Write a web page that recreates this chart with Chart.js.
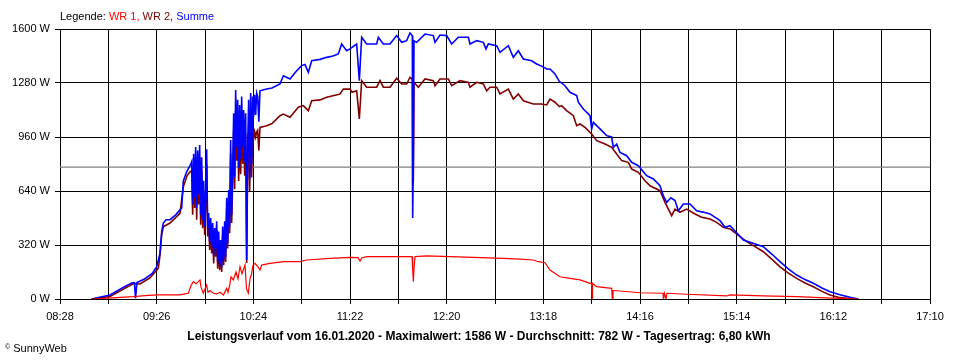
<!DOCTYPE html>
<html>
<head>
<meta charset="utf-8">
<script src="https://cdn.jsdelivr.net/npm/chart.js@4.4.1/dist/chart.umd.min.js"></script>
<style>
  html, body { margin: 0; padding: 0; background: #ffffff; }
  #wrap { position: relative; width: 960px; height: 360px; font-family: "Liberation Sans", Arial, sans-serif; }
  #c { position: absolute; left: 0; top: 0; }
  .txt { position: absolute; white-space: nowrap; color: #000; }
  #legend { left: 60px; top: 10px; font-size: 11px; }
  #title { left: 0; width: 958px; top: 329px; text-align: center; font-size: 12px; font-weight: bold; }
  #copy { left: 5px; top: 342px; font-size: 11px; }
  #copy sup { font-size: 7px; vertical-align: 3px; }
</style>
</head>
<body>
<div id="wrap">
  <canvas id="c" width="960" height="360"></canvas>
  <div class="txt" id="legend">Legende: <span style="color:#ff0000">WR 1,</span> <span style="color:#800000">WR 2,</span> <span style="color:#0000ff">Summe</span></div>
  <div class="txt" id="title">Leistungsverlauf vom 16.01.2020 - Maximalwert: 1586 W - Durchschnitt: 782 W - Tagesertrag: 6,80 kWh</div>
  <div class="txt" id="copy"><sup>©</sup> SunnyWeb</div>
</div>
<script>
// ---- tick labels ----
const xTickLabels = ['08:28','09:26','10:24','11:22','12:20','13:18','14:16','15:14','16:12','17:10'];
const yTickValues = [0, 320, 640, 960, 1280, 1600];
const averageW = 782;

// ---- Summe (blue): time in minutes since midnight, value in W ----
const sumTimes = [527,538,547,551,552.7,553.3,554.2,559,563.2,566,568,569,570,571.6,574,577.6,581,582,584,586,
587,587.6,588.2,588.8,589.4,590,590.6,591.2,591.8,592.4,593,593.6,594.2,594.8,595.4,596,596.6,597.2,597.8,598.4,
599,599.6,600.2,600.8,601.4,602,602.6,603.2,603.8,604.4,605,605.6,606.2,606.8,607.4,608,608.6,609.2,609.8,610.4,
611,611.6,612.2,612.8,613.4,614,614.6,615.2,615.8,616.4,617,617.6,618.2,618.8,619.4,620,620.6,621.2,621.8,622.4,
623,623.6,624.2,624.8,625.4,626,626.6,627.3,
628,632,635.2,640,642,644.8,646,650,653,655,657,659,664,668,671.8,675,677,680,682,686,687.6,689,692,698,699,702,706,
710,713,716,718,719.4,719.6,720,720.4,722,727,732,733,736,740,743,747,753,754,758,762,763.6,765,770,772,777,780,783,
786,791,794,797,800,802,805,807.6,811,814,818,819,822,826,827,828,832,836,839,840,842,844,848,851,855,860,864,868,
870,872,874.6,877,879,882,886,890,893.8,898,904,907,910,918,923.8,930,935.2,940,944.8,950,955,960,965.2,970,976,982,987];
const summe = [0,24,75,95,97,5,97,120,150,190,272,400,450,470,470,500,540,700,754,790,
814,560,860,600,900,540,880,620,912,500,840,470,700,430,620,888,420,510,340,480,
310,450,260,420,300,460,220,400,200,350,185,430,230,460,250,600,330,646,430,942,
500,760,1100,720,1238,900,1180,780,1150,830,1200,900,1120,810,1100,231,900,1180,710,1220,
800,1200,1080,1210,1090,1220,1200,1050,
1234,1244,1250,1274,1323,1310,1304,1353,1383,1390,1343,1412,1420,1432,1440,1452,1511,1471,1482,1511,1294,1551,1511,1511,1551,1511,1511,
1561,1521,1531,1576,1560,480,820,1530,1521,1570,1561,1521,1564,1561,1511,1551,1551,1511,1531,1521,1482,1511,1501,1462,1501,1432,1471,
1422,1412,1393,1380,1363,1363,1333,1290,1264,1225,1205,1166,1126,1086,1008,1047,1008,968,960,899,918,869,849,810,790,731,711,671,
612,573,600,583,523,563,563,523,515,504,464,425,434,350,330,310,265,221,180,142,115,93,65,43,25,10,0];

// ---- WR 2 (dark red) ----
const wr2Times = [527,538,548,552,554.2,556,562,566,567,568,569,570,574,580,582,584.2,586,
587,587.6,588.2,588.8,589.4,590,590.6,591.2,591.8,592.4,593,593.6,594.2,594.8,595.4,596,596.6,597.2,597.8,598.4,
599,599.6,600.2,600.8,601.4,602,602.6,603.2,603.8,604.4,605,605.6,606.2,606.8,607.4,608,608.6,609.2,609.8,610.4,
611,611.6,612.2,612.8,613.4,614,614.6,615.2,615.8,616.4,617,617.6,618.2,618.8,619.4,620,620.6,621.2,621.8,622.4,
623,623.6,624.2,624.8,625.4,626,626.6,627.3,
628,632,635.2,640,642,646,651,654,657,659,664,668,671.8,676,678,682,683.2,686,687.6,689,692,698,700,702,706,
710,713,716,718,719.4,719.6,720,720.4,723,727,732,733,736,741,743,748,753,754,758,762,764,766,770,772,777,780,783,
786,792,797,800,802,805,807.6,809,812,816,818,820,823,827,830,835,839,842,845,849,851,855,859,862,868,871,875,877,
880,884,889,893,898,902,906,910,920,925,930,935.2,940,944.8,950,955,960,965.2,970,976,982,987];
const wr2 = [0,15,70,90,90,89,125,170,182,260,380,428,450,508,665,730,754,
760,500,800,540,830,470,800,560,840,440,760,420,640,380,560,800,370,460,290,430,
270,400,210,370,250,410,180,350,170,300,160,380,200,410,220,540,300,580,390,860,
450,700,1000,650,1120,820,1060,700,1030,740,1060,800,1000,730,980,213,800,1020,640,1050,
720,1020,950,990,960,990,1000,880,
1017,1027,1040,1086,1096,1077,1136,1146,1116,1175,1180,1195,1205,1215,1244,1244,1225,1234,1067,1294,1255,1255,1294,1255,1255,
1308,1274,1274,1314,1300,681,700,1284,1255,1304,1294,1264,1304,1304,1264,1294,1284,1255,1284,1274,1234,1255,1255,1215,1244,1185,1215,
1175,1156,1156,1150,1185,1166,1140,1146,1116,1086,1027,1037,1017,978,938,918,899,859,820,810,770,751,701,671,642,573,494,533,
514,533,504,484,474,454,425,415,340,310,280,235,191,155,122,95,73,45,24,8,2,0];

// ---- WR 1 (red) ----
const wr1Times = [527,536.8,544,552,559,566,580,583,585,586.6,588,589.6,592,592.6,594,595,596,596.8,598,600,602,604,606,608,
608.8,610,610.6,612,613.6,614.8,616,617.2,619,619.9,621,622,623,623.8,625,626.8,628,629,631,634,642,652,656,670,682,686.8,
688,689.2,692,719.2,719.6,720,720.4,721,728,756,774,784,792,795,799,802,808,814,820,826,826.9,827.2,827.5,830,839,839.4,
839.8,842,856,869.8,870.1,870.7,871.6,872.2,884,908,910,930,950,964,976,986.8];
const wr1 = [0,5,10,14,20,24,24,30,34,80,103,90,113,70,34,60,83,40,50,34,30,40,24,63,
40,90,132,113,160,120,191,150,201,60,34,120,152,200,211,190,172,201,205,211,221,221,231,241,247,245,
225,245,251,251,180,103,180,251,255,247,241,236,231,221,215,172,132,122,113,93,93,0,93,73,63,0,
50,49,37,34,0,34,0,34,28,18,24,18,14,8,4,0];

// ---- build point lists ----
const pts = (t, v) => t.map((x, i) => ({ x: x, y: v[i] }));
const xStart = (() => { const p = xTickLabels[0].split(':'); return +p[0] * 60 + +p[1]; })();
const xEnd = (() => { const p = xTickLabels[xTickLabels.length - 1].split(':'); return +p[0] * 60 + +p[1]; })();
const labelStep = (xEnd - xStart) / (xTickLabels.length - 1);
const gridStep = labelStep / 2;

const fontFam = '"Liberation Sans", Arial, sans-serif';

new Chart(document.getElementById('c'), {
  type: 'line',
  data: {
    datasets: [
      { label: 'WR 1', data: pts(wr1Times, wr1), borderColor: '#ff0000', borderWidth: 1.2, pointRadius: 0, tension: 0 },
      { label: 'Summe', data: pts(sumTimes, summe), borderColor: '#0000ff', borderWidth: 1.6, pointRadius: 0, tension: 0 },
      { label: 'WR 2', data: pts(wr2Times, wr2), borderColor: '#800000', borderWidth: 1.6, pointRadius: 0, tension: 0 },
      { label: 'Durchschnitt', data: [{ x: xStart, y: averageW }, { x: xEnd, y: averageW }], borderColor: '#808080', borderWidth: 1.2, pointRadius: 0 }
    ]
  },
  options: {
    responsive: false,
    animation: false,
    events: [],
    layout: { padding: { top: 29, right: 30, left: 0, bottom: 0 } },
    plugins: { legend: { display: false }, tooltip: { enabled: false }, title: { display: false } },
    scales: {
      x: {
        type: 'linear',
        min: xStart,
        max: xEnd,
        afterBuildTicks: s => { const t = []; for (let v = xStart; v <= xEnd + 0.01; v += gridStep) t.push({ value: v }); s.ticks = t; },
        afterFit: s => { s.height = 61; },
        grid: { color: '#000000', lineWidth: 1, drawTicks: true, tickLength: 5, tickColor: '#000000' },
        border: { color: '#000000', width: 1 },
        ticks: {
          autoSkip: false, maxRotation: 0, padding: 6, color: '#000000',
          font: { family: fontFam, size: 11 },
          callback: (v, i) => (i % 2 === 0 ? xTickLabels[i / 2] : '')
        }
      },
      y: {
        min: yTickValues[0],
        max: yTickValues[yTickValues.length - 1],
        afterBuildTicks: s => { s.ticks = yTickValues.map(v => ({ value: v })); },
        afterFit: s => { s.width = 60; },
        grid: { color: '#000000', lineWidth: 1, drawTicks: true, tickLength: 5, tickColor: '#000000' },
        border: { color: '#000000', width: 1 },
        ticks: {
          padding: 5, color: '#000000',
          font: { family: fontFam, size: 11 },
          callback: v => v + ' W'
        }
      }
    }
  }
});
</script>
</body>
</html>
